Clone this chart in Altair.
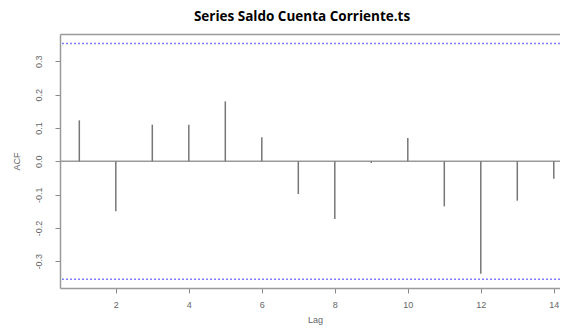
import altair as alt
import pandas as pd

lags = [1, 2, 3, 4, 5, 6, 7, 8, 9, 10, 11, 12, 13, 14]
acf_values = [0.123, -0.150, 0.110, 0.110, 0.180, 0.072, -0.098, -0.173,
              -0.005, 0.070, -0.135, -0.337, -0.118, -0.052]
ci_bounds = [0.3536, -0.3536]
x_ticks = [2, 4, 6, 8, 10, 12, 14]
y_ticks = [-0.3, -0.2, -0.1, 0.0, 0.1, 0.2, 0.3]

df = pd.DataFrame({"lag": lags, "acf": acf_values, "zero": [0.0] * len(lags)})
ci = pd.DataFrame({"bound": ci_bounds})
zero = pd.DataFrame({"y": [0.0]})

xdom = [0.471, 14.17]
ydom = [-0.380, 0.382]

xs = alt.Scale(domain=xdom, nice=False, zero=False)
ys = alt.Scale(domain=ydom, nice=False, zero=False)

gray_axis = dict(
    domainColor="#9a9a9a", domainWidth=1.5, tickColor="#8a8a8a", tickSize=5, tickWidth=1,
    labelColor="#666666", labelFont="Liberation Sans", labelFontSize=9, grid=False,
    titleColor="#666666", titleFont="Liberation Sans", titleFontSize=9, titleFontWeight="normal",
)

spikes = alt.Chart(df).mark_rule(color="#777777", strokeWidth=1.5).encode(
    x=alt.X("lag:Q", scale=xs,
            axis=alt.Axis(values=x_ticks, format="d", title="Lag", labelPadding=7,
                          titleX=255, titleY=31, titleAlign="center", titleBaseline="middle",
                          **gray_axis)),
    y=alt.Y("zero:Q", scale=ys,
            axis=alt.Axis(values=y_ticks, title="ACF", labelAngle=270, labelAlign="center",
                          labelBaseline="bottom", labelPadding=12,
                          labelExpr="replace(format(datum.value, '.1f'), '\u2212', '-')",
                          titleX=-44, titleY=127, titleAngle=270, titleAlign="center",
                          titleBaseline="middle", **gray_axis)),
    y2="acf:Q",
)

zero_line = alt.Chart(zero).mark_rule(color="#9a9a9a", strokeWidth=1.5).encode(
    y=alt.Y("y:Q", scale=ys),
)

ci_lines = alt.Chart(ci).mark_rule(color="#8080ff", strokeWidth=1.5, strokeDash=[2, 2]).encode(
    y=alt.Y("bound:Q", scale=ys),
)

top_frame = alt.Chart(df).mark_point(opacity=0).encode(
    x=alt.X("lag:Q", scale=xs,
            axis=alt.Axis(orient="top", labels=False, ticks=False, title=None,
                          domainColor="#9a9a9a", domainWidth=1.5, grid=False)),
    y=alt.Y("acf:Q", scale=ys),
)

chart = alt.layer(zero_line, ci_lines, spikes, top_frame).resolve_axis(
    x="independent"
).properties(
    width=500,
    height=254,
    autosize=alt.AutoSizeParams(type="none"),
    padding={"left": 52, "top": 26, "right": 0, "bottom": 39},
    title=alt.TitleParams(
        "Series Saldo Cuenta Corriente.ts", font="Open Sans", fontSize=13.5,
        fontWeight="bold", color="#000000", anchor="middle", frame="group",
        baseline="middle", offset=4, dx=-8,
    ),
).configure_view(stroke=None)

chart.save("out.html", embed_options={"renderer": "svg", "actions": False})
